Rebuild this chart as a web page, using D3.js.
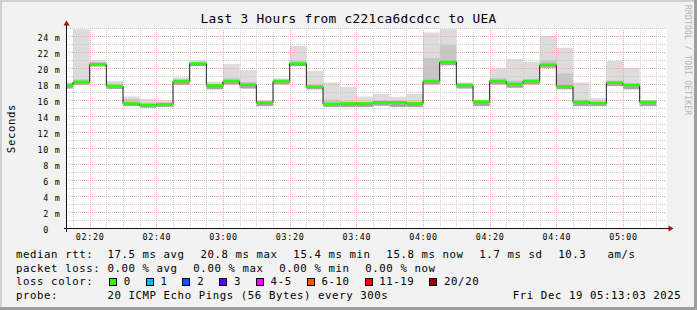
<!DOCTYPE html>
<html>
<head>
<meta charset="utf-8">
<script src="https://cdn.jsdelivr.net/npm/d3@7"></script>
<style>
  html, body { margin: 0; padding: 0; background: #f2f2f2; }
  svg { display: block; }
  text { font-family: "DejaVu Sans Mono", monospace; fill: #000; }
</style>
</head>
<body>
<div class="chart"></div>
<script>

// Start of each 5 minute bin
var binStart = ["02:10","02:15","02:20","02:25","02:30","02:35","02:40","02:45","02:50","02:55",
                "03:00","03:05","03:10","03:15","03:20","03:25","03:30","03:35","03:40","03:45",
                "03:50","03:55","04:00","04:05","04:10","04:15","04:20","04:25","04:30","04:35",
                "04:40","04:45","04:50","04:55","05:00","05:05"];

// Median rtt per bin (ms)
var median = [17.9, 18.3, 20.5, 17.8, 15.6, 15.4, 15.5, 18.4, 20.6, 17.85,
              18.4, 17.95, 15.7, 18.4, 20.6, 17.7, 15.55, 15.6, 15.6, 15.75,
              15.75, 15.6, 18.4, 20.8, 17.9, 15.85, 18.4, 18.05, 18.4, 20.45,
              17.75, 15.8, 15.65, 18.2, 17.9, 15.8];

// Smoke: lowest ping, top of the darker inner band, highest ping (ms)
var smokeLo = [17.5, 17.95, 20.25, 17.45, 15.3, 15.1, 15.2, 17.95, 20.3, 17.4,
               18.0, 17.5, 15.3, 18.0, 20.3, 17.4, 15.2, 15.2, 15.2, 15.35,
               15.2, 15.2, 18.0, 20.4, 17.5, 15.3, 18.0, 17.6, 18.0, 20.1,
               17.4, 15.3, 15.3, 17.8, 17.4, 15.3];
var smokeMid = [18.15, 18.65, 20.8, 18.1, 16.2, 15.75, 15.75, 18.65, 20.85, 18.1,
                18.8, 18.3, 15.95, 18.65, 21.05, 18.0, 16.1, 15.9, 15.85, 16.0,
                16.0, 15.9, 21.3, 22.9, 18.15, 16.0, 18.8, 18.5, 18.7, 21.05,
                19.4, 16.1, 15.9, 18.5, 18.2, 15.95];
var smokeHi = [18.25, 24.9, 21.05, 18.45, 16.5, 16.2, 16.0, 18.9, 21.05, 18.35,
               20.55, 19.8, 16.05, 18.75, 22.85, 19.7, 18.25, 17.7, 16.5, 16.85,
               16.45, 16.85, 24.5, 24.95, 18.25, 16.05, 20.0, 21.2, 20.85, 24.05,
               22.6, 18.25, 16.3, 20.95, 20.1, 16.05];

var yTicks = [0, 2, 4, 6, 8, 10, 12, 14, 16, 18, 20, 22, 24];

var lossLabels = ["0", "1", "2", "3", "4-5", "6-10", "11-19", "20/20"];
var lossColors = ["#26ff00", "#00b8ff", "#0059ff", "#5e00ff", "#ff00ff", "#ff5500", "#ff0000", "#a10000"];

var rttRow = ["median rtt:  ", "17.5 ms avg  ", "20.8 ms max  ", "15.4 ms min  ", "15.8 ms now  ", "1.7 ms sd  ", "10.3   am/s"];
var lossRow = ["packet loss: ", "0.00 % avg  ", "0.00 % max  ", "0.00 % min  ", "0.00 % now"];
var probeRow = ["probe:       ", "20 ICMP Echo Pings (56 Bytes) every 300s"];
var stamp = "Fri Dec 19 05:13:03 2025";
var title = "Last 3 Hours from c221ca6dcdcc to UEA";

var W = 697, H = 310;
var pL = 66.5, pR = 666.5, pT = 28.5, pB = 228.5;
var CW = 7.03, GAP = 1.6;   // legend char width / item gap

var parseT = d3.utcParse("%Y-%m-%d %H:%M");
var bins = binStart.map(function(s, i) {
    var t0 = parseT("2025-12-19 " + s);
    return { t0: t0, t1: d3.utcMinute.offset(t0, 5), med: median[i],
             lo: smokeLo[i], mid: smokeMid[i], hi: smokeHi[i] };
});

var x = d3.scaleUtc()
    .domain([new Date(Date.UTC(2025, 11, 19, 2, 13, 3)), new Date(Date.UTC(2025, 11, 19, 5, 13, 3))])
    .range([pL, pR]);

var y = d3.scaleLinear()
    .domain([0, 25])
    .range([pB, pT]);

var svg = d3.select(".chart")
    .append("svg")
        .attr("width", W)
        .attr("height", H);

// Dot patterns for the rrdtool style dotted grid
var defs = svg.append("defs");
function dotPattern(id, w, h, color) {
    var p = defs.append("pattern")
        .attr("id", id)
        .attr("patternUnits", "userSpaceOnUse")
        .attr("width", w).attr("height", h);
    p.append("rect").attr("width", 1).attr("height", 1).attr("fill", color);
}
dotPattern("hMinor", 2, 1, "#cccccc");
dotPattern("vMinor", 1, 2, "#cccccc");
dotPattern("hMajor", 2, 1, "#f5a3a3");
dotPattern("vMajor", 1, 2, "#f5a3a3");

// Frame and canvas
svg.append("rect").attr("width", W).attr("height", H).attr("fill", "#f2f2f2");
svg.append("path").attr("d", "M0,0H" + W + "V2H2V" + H + "H0Z").attr("fill", "#cfcfcf");
svg.append("path").attr("d", "M" + W + ",0V" + H + "H0V" + (H - 3) + "H" + (W - 3) + "V0Z").attr("fill", "#9e9e9e");
svg.append("rect")
    .attr("x", pL).attr("y", pT)
    .attr("width", pR - pL).attr("height", pB - pT)
    .attr("fill", "#fff");

svg.append("clipPath").attr("id", "plot")
    .append("rect")
    .attr("x", pL).attr("y", pT - 5)
    .attr("width", pR - pL).attr("height", pB - pT + 5);

var smoke = svg.append("g").attr("clip-path", "url(#plot)");

// Smoke layers
function smokeLayer(cls, top, base, color) {
    smoke.selectAll("." + cls)
        .data(bins).enter()
        .append("rect")
            .attr("class", cls)
            .attr("x", function(d) { return x(d.t0); })
            .attr("width", function(d) { return x(d.t1) - x(d.t0); })
            .attr("y", function(d) { return y(d[top]); })
            .attr("height", function(d) { return y(d[base]) - y(d[top]); })
            .attr("fill", color);
}
smokeLayer("sOuter", "hi", "lo", "#dcdcdc");
smokeLayer("sMid", "mid", "med", "#c6c6c6");
smokeLayer("sLow", "med", "lo", "#a6a6a6");

// Grid (dotted, over the smoke like rrdtool), 1px rects filled with dot patterns
var grid = svg.append("g").attr("shape-rendering", "crispEdges");

var minorX = d3.utcMinute.every(5).range(x.domain()[0], x.domain()[1]);
var majorX = d3.utcMinute.every(20).range(x.domain()[0], x.domain()[1]);
var minorY = d3.range(1, 26).filter(function(v) { return v % 2; });

function vLines(data, pat) {
    grid.selectAll(null).data(data).enter().append("rect")
        .attr("x", function(d) { return Math.round(x(d)); })
        .attr("y", Math.ceil(pT)).attr("width", 1)
        .attr("height", Math.floor(pB) - Math.ceil(pT))
        .attr("fill", "url(#" + pat + ")");
}
function hLines(data, pat) {
    grid.selectAll(null).data(data).enter().append("rect")
        .attr("x", Math.ceil(pL)).attr("width", Math.floor(pR) - Math.ceil(pL))
        .attr("y", function(d) { return y(d) - 0.5; })
        .attr("height", 1)
        .attr("fill", "url(#" + pat + ")");
}
vLines(minorX.filter(function(t) { return t.getUTCMinutes() % 20; }), "vMinor");
hLines(minorY, "hMinor");
vLines(majorX, "vMajor");
hLines(yTicks.slice(1), "hMajor");

var line = svg.append("g").attr("clip-path", "url(#plot)");

// Median step line
var stepPts = bins.map(function(d) { return [x(d.t0), y(d.med)]; });
stepPts.push([x(bins[bins.length - 1].t1), y(bins[bins.length - 1].med)]);

line.append("path")
    .attr("d", d3.line().curve(d3.curveStepAfter)(stepPts))
    .attr("fill", "none")
    .attr("stroke", "#202020")
    .attr("stroke-width", 1);

// Loss coloured band on the median (0 loss everywhere)
line.selectAll(".med")
    .data(bins).enter()
    .append("rect")
        .attr("x", function(d) { return x(d.t0); })
        .attr("width", function(d) { return x(d.t1) - x(d.t0); })
        .attr("y", function(d) { return y(d.med) - 1.5; })
        .attr("height", 2.5)
        .attr("fill", lossColors[0]);

// Axes
var xAxis = d3.axisBottom(x)
    .ticks(d3.utcMinute.every(20))
    .tickFormat(d3.utcFormat("%H:%M"))
    .tickSize(0);

var gx = svg.append("g")
    .attr("transform", "translate(0," + pB + ")")
    .call(xAxis);
gx.select(".domain").remove();
gx.selectAll("text")
    .attr("y", 11.5).attr("dy", null)
    .style("font-family", "DejaVu Sans Mono")
    .style("font-size", "8.4px")
    .style("letter-spacing", "0.7px")
    .attr("fill", "#000");

var yAxis = d3.axisLeft(y)
    .tickValues(yTicks)
    .tickFormat(function(d) {
        var s = String(d);
        if (s.length < 2) s = " " + s;
        return s + " " + (d === 0 ? " " : "m");
    })
    .tickSize(0);

var gy = svg.append("g")
    .attr("transform", "translate(" + pL + ",0)")
    .call(yAxis);
gy.select(".domain").remove();
gy.selectAll("text")
    .attr("x", -6).attr("dy", 3.5)
    .style("white-space", "pre")
    .style("font-family", "DejaVu Sans Mono")
    .style("font-size", "8.4px")
    .style("letter-spacing", "0.7px")
    .attr("fill", "#000");

var axes = svg.append("g").attr("shape-rendering", "crispEdges");
axes.append("line")
    .attr("x1", pL - 3).attr("x2", pR + 2)
    .attr("y1", pB).attr("y2", pB)
    .attr("stroke", "#111");
axes.append("line")
    .attr("x1", pL).attr("x2", pL)
    .attr("y1", pB + 3).attr("y2", pT - 4)
    .attr("stroke", "#111");

// Arrows
svg.append("path")
    .attr("d", "M" + (pL - 3) + "," + (pT - 3) + "L" + pL + "," + (pT - 8) + "L" + (pL + 3) + "," + (pT - 3) + "Z")
    .attr("fill", "#9b1010");
svg.append("path")
    .attr("d", "M" + (pR + 2) + "," + (pB - 3) + "L" + (pR + 7) + "," + pB + "L" + (pR + 2) + "," + (pB + 3) + "Z")
    .attr("fill", "#9b1010");

// Title and side labels
svg.append("text")
    .attr("x", 348.5).attr("y", 23)
    .attr("text-anchor", "middle")
    .style("font-size", "12.8px")
    .style("letter-spacing", "0.3px")
    .text(title);

svg.append("text")
    .attr("transform", "translate(14.5,128.5) rotate(-90)")
    .attr("text-anchor", "middle")
    .style("font-size", "10.7px")
    .style("letter-spacing", "0.6px")
    .text("Seconds");

svg.append("text")
    .attr("transform", "translate(684.5,5) rotate(90)")
    .style("font-size", "8px")
    .style("letter-spacing", "0.2px")
    .style("fill", "#b4b4b4")
    .text("RRDTOOL / TOBI OETIKER");

// Legend rows
function legendRow(items, yPos) {
    var xPos = 16;
    items.forEach(function(s, i) {
        svg.append("text")
            .attr("x", xPos).attr("y", yPos)
            .style("white-space", "pre")
            .style("font-size", "10.7px")
            .style("letter-spacing", (CW - 0.602 * 10.7) + "px")
            .text(s);
        xPos += s.length * CW + (i > 0 ? GAP : 0);
    });
}

legendRow(rttRow, 258.3);
legendRow(lossRow, 271.8);
legendRow(probeRow, 298.8);

svg.append("text")
    .attr("x", 681.5 - stamp.length * CW).attr("y", 298.8)
    .style("font-size", "10.7px")
    .style("letter-spacing", (CW - 0.602 * 10.7) + "px")
    .text(stamp);

// Loss colour legend
svg.append("text")
    .attr("x", 16).attr("y", 285.3)
    .style("font-size", "10.7px")
    .style("letter-spacing", (CW - 0.602 * 10.7) + "px")
    .text("loss color:");

var bx = 109;
lossLabels.forEach(function(lab, i) {
    svg.append("rect")
        .attr("x", bx + 0.5).attr("y", 278.5)
        .attr("width", 7).attr("height", 7)
        .attr("fill", lossColors[i])
        .attr("stroke", "#000")
        .attr("stroke-width", 1)
        .attr("shape-rendering", "crispEdges");
    svg.append("text")
        .attr("x", bx + 14.7).attr("y", 285.3)
        .style("font-size", "10.7px")
        .style("letter-spacing", (CW - 0.602 * 10.7) + "px")
        .text(lab);
    bx += 14.7 + lab.length * CW + 15;
});

</script>
</body>
</html>
